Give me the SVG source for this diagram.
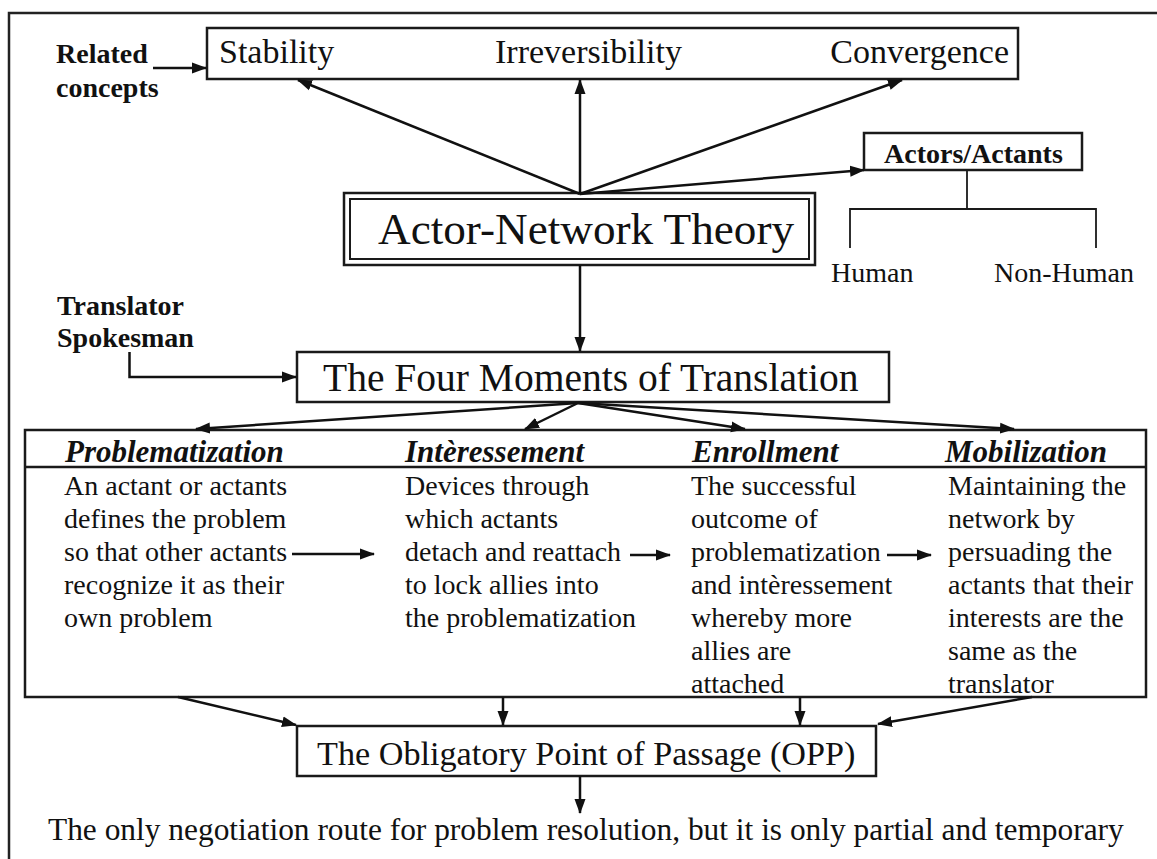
<svg xmlns="http://www.w3.org/2000/svg" width="1157" height="859" viewBox="0 0 1157 859">
  <style>
    text { font-family: "Liberation Serif", "Times New Roman", serif; fill: #111; }
    .box { fill: #fff; stroke: #1a1a1a; stroke-width: 2.5; }
    .thin { fill: none; stroke: #1a1a1a; stroke-width: 1.8; }
    .conn { fill: none; stroke: #111; stroke-width: 2.5; marker-end: url(#ah); }
    .b { font-weight: bold; font-size: 28px; }
    .h { font-weight: bold; font-style: italic; font-size: 31px; }
    .body { font-size: 28px; }
    .big { font-size: 34px; }
  </style>
  <defs>
    <marker id="ah" markerWidth="15" markerHeight="12" refX="14" refY="6" orient="auto" markerUnits="userSpaceOnUse">
      <path d="M0,0.5 L15,6 L0,11.5 z" fill="#111"/>
    </marker>
  </defs>
  <rect width="1157" height="859" fill="#fff"/>
  <path d="M9,859 V13 H1157" fill="none" stroke="#222" stroke-width="2.5"/>

  <g id="related-concepts">
    <text class="b" x="56" y="63">Related</text>
    <text class="b" x="56" y="97">concepts</text>
  </g>

  <g id="concepts-box">
    <rect class="box" x="207" y="28" width="811" height="51"/>
    <text class="big" x="219" y="63">Stability</text>
    <text class="big" x="495" y="63">Irreversibility</text>
    <text class="big" x="1009" y="63" text-anchor="end">Convergence</text>
  </g>

  <g id="ant">
    <rect class="box" x="344" y="193" width="471" height="72"/>
    <rect x="350" y="199" width="459" height="60" fill="none" stroke="#1a1a1a" stroke-width="2"/>
    <text x="378" y="244" font-size="45.2">Actor-Network Theory</text>
  </g>

  <g id="actors">
    <rect class="box" x="864" y="133" width="218" height="37"/>
    <text class="b" x="884" y="163" font-size="28.4">Actors/Actants</text>
  </g>

  <g id="human">
    <text class="body" x="831" y="282">Human</text>
  </g>
  <g id="non-human">
    <text class="body" x="994" y="282">Non-Human</text>
  </g>

  <g id="translator">
    <text class="b" x="57" y="315">Translator</text>
    <text class="b" x="57" y="347">Spokesman</text>
  </g>

  <g id="four-moments">
    <rect class="box" x="297" y="352" width="592" height="50"/>
    <text x="323" y="391" font-size="39.5">The Four Moments of Translation</text>
  </g>

  <g id="moments-table">
    <rect class="box" x="25" y="430" width="1121" height="267"/>
    <line x1="25" y1="467" x2="1146" y2="467" stroke="#1a1a1a" stroke-width="2.5"/>
  </g>

  <g id="problematization">
    <text class="h" x="65" y="462">Problematization</text>
    <text class="body" x="64">
      <tspan x="64" y="495">An actant or actants</tspan>
      <tspan x="64" y="528">defines the problem</tspan>
      <tspan x="64" y="561">so that other actants</tspan>
      <tspan x="64" y="594">recognize it as their</tspan>
      <tspan x="64" y="627">own problem</tspan>
    </text>
  </g>

  <g id="interessement">
    <text class="h" x="405" y="462">Intèressement</text>
    <text class="body">
      <tspan x="405" y="495">Devices through</tspan>
      <tspan x="405" y="528">which actants</tspan>
      <tspan x="405" y="561">detach and reattach</tspan>
      <tspan x="405" y="594">to lock allies into</tspan>
      <tspan x="405" y="627">the problematization</tspan>
    </text>
  </g>

  <g id="enrollment">
    <text class="h" x="692" y="462">Enrollment</text>
    <text class="body">
      <tspan x="691" y="495">The successful</tspan>
      <tspan x="691" y="528">outcome of</tspan>
      <tspan x="691" y="561">problematization</tspan>
      <tspan x="691" y="594">and intèressement</tspan>
      <tspan x="691" y="627">whereby more</tspan>
      <tspan x="691" y="660">allies are</tspan>
      <tspan x="691" y="693">attached</tspan>
    </text>
  </g>

  <g id="mobilization">
    <text class="h" x="945" y="462">Mobilization</text>
    <text class="body">
      <tspan x="948" y="495">Maintaining the</tspan>
      <tspan x="948" y="528">network by</tspan>
      <tspan x="948" y="561">persuading the</tspan>
      <tspan x="948" y="594">actants that their</tspan>
      <tspan x="948" y="627">interests are the</tspan>
      <tspan x="948" y="660">same as the</tspan>
      <tspan x="948" y="693">translator</tspan>
    </text>
  </g>

  <g id="opp">
    <rect class="box" x="297" y="726" width="579" height="50"/>
    <text x="317" y="765" font-size="34.2">The Obligatory Point of Passage (OPP)</text>
  </g>

  <g id="outcome">
    <text x="48" y="840" font-size="31.4">The only negotiation route for problem resolution, but it is only partial and temporary</text>
  </g>

  <g id="connectors">
    <line class="conn" x1="153" y1="68" x2="206" y2="68"/>
    <line class="conn" x1="580" y1="194" x2="298" y2="80"/>
    <line class="conn" x1="580" y1="194" x2="580" y2="80"/>
    <line class="conn" x1="580" y1="194" x2="902" y2="80"/>
    <line class="conn" x1="580" y1="194" x2="864" y2="170"/>
    <path class="thin" d="M967,170 V209 M850,248 V209 H1096 V248"/>
    <line class="conn" x1="580" y1="265" x2="580" y2="351"/>
    <path class="conn" d="M129.5,352 V377 H296"/>
    <line class="conn" x1="578" y1="403" x2="196" y2="429"/>
    <line class="conn" x1="578" y1="403" x2="525" y2="429"/>
    <line class="conn" x1="578" y1="403" x2="745" y2="429"/>
    <line class="conn" x1="578" y1="403" x2="1014" y2="429"/>
    <line class="conn" x1="292" y1="554" x2="374" y2="554"/>
    <line class="conn" x1="630" y1="555" x2="670" y2="555"/>
    <line class="conn" x1="887" y1="555" x2="931" y2="555"/>
    <line class="conn" x1="178" y1="697" x2="296" y2="725"/>
    <line class="conn" x1="503" y1="697" x2="503" y2="725"/>
    <line class="conn" x1="800" y1="697" x2="800" y2="725"/>
    <line class="conn" x1="1032" y1="697" x2="878" y2="724"/>
    <line class="conn" x1="580" y1="776" x2="580" y2="813"/>
  </g>
</svg>
